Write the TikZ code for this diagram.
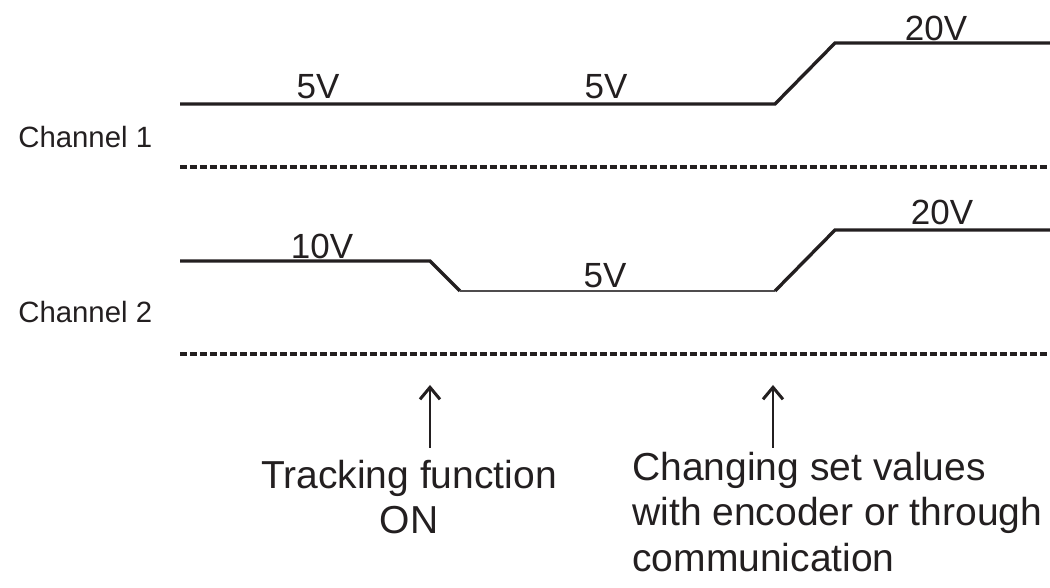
\documentclass[tikz,border=0pt]{standalone}
\usepackage{fontspec}
\setmainfont{Liberation Sans}
\usepackage{xcolor}
\usetikzlibrary{arrows.meta}
\definecolor{ink}{HTML}{231F20}
\tikzset{>={Straight Barb[length=2.4mm,width=4mm]}}
\tikzset{
	level/.style={line width=1.9pt,draw=ink,line join=miter},
	thinlevel/.style={line width=1.3pt,draw=ink!80},
	ground/.style={line width=2.1pt,draw=ink,dash pattern=on 0.14cm off 0.06cm},
	pointer/.style={->,line width=1.7pt,draw=ink},
	chname/.style={anchor=base west,inner sep=0,text=ink,font=\fontsize{16.7}{20}\selectfont},
	volt/.style={anchor=base,inner sep=0,text=ink,font=\fontsize{19.9}{24}\selectfont},
	note/.style={inner sep=0,text=ink,font=\fontsize{22.2}{25.9}\selectfont},
}

\begin{document}
\begin{tikzpicture}
	\useasboundingbox (0,0) rectangle (21,-11.76);
	% channel names
	\node[chname] (ch1 name) at (0.36,-2.96) {Channel 1};
	\node[chname] (ch2 name) at (0.36,-6.46) {Channel 2};
	% channel 1
	\draw[level] (3.6,-2.08)--(15.5,-2.08)--(16.7,-0.86)--(21,-0.86);
	\draw[ground] (3.6,-3.34)--(21,-3.34);
	\node[volt] (ch1 low) at (6.36,-1.98) {5V};
	\node[volt] (ch1 mid) at (12.12,-1.98) {5V};
	\node[volt] (ch1 high) at (18.72,-0.82) {20V};
	% channel 2
	\draw[level] (3.6,-5.22)--(8.6,-5.22)--(9.2,-5.82);
	\draw[thinlevel] (9.2,-5.82)--(15.5,-5.82);
	\draw[level] (15.5,-5.82)--(16.7,-4.6)--(21,-4.6);
	\draw[ground] (3.6,-7.08)--(21,-7.08);
	\node[volt] (ch2 low) at (6.44,-5.18) {10V};
	\node[volt] (ch2 mid) at (12.1,-5.76) {5V};
	\node[volt] (ch2 high) at (18.84,-4.5) {20V};
	% events
	\coordinate (track foot) at (8.6,-8.96);
	\coordinate (track tip) at (8.6,-7.7);
	\coordinate (change foot) at (15.46,-8.96);
	\coordinate (change tip) at (15.46,-7.7);
	\draw[pointer] (track foot)--(track tip);
	\draw[pointer] (change foot)--(change tip);
	\node[note,anchor=north,align=center] (track note) at (8.18,-9.19) {Tracking function\\ON};
	\node[note,anchor=north west,align=left] (change note) at (12.64,-9.03) {Changing set values\\with encoder or through\\communication};
\end{tikzpicture}
\end{document}
